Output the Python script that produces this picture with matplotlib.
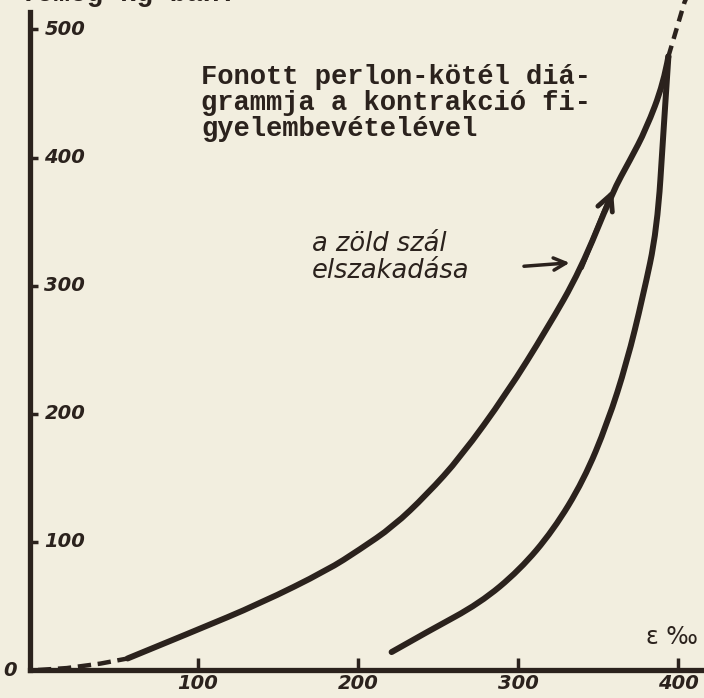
import matplotlib
matplotlib.use("Agg")
import matplotlib.pyplot as plt
from matplotlib.path import Path
from matplotlib.patches import PathPatch

# load (kg) vs elongation (per mille)
lead_x = [0, 18, 39, 56]
lead_y = [0, 1.5, 5, 9]
load_x = [56, 97, 139, 181, 201, 222, 243, 264, 293, 318, 339, 359, 370, 380, 391, 394]
load_y = [9, 30, 52, 78, 94, 112, 137, 166, 216, 266, 312, 373, 398, 422, 458, 479]
unload_x = [394, 391, 387, 378, 368, 356, 341, 322, 301, 276, 245, 221]
unload_y = [479, 422, 344, 291, 240, 193, 148, 109, 78, 52, 31, 14]
ext_x = [394, 404, 407]
ext_y = [479, 521, 530]

xticks = [100, 200, 300, 400]
yticks = [100, 200, 300, 400, 500]

title = "Fonott perlon-kötél diá-\ngrammja a kontrakció fi-\ngyelembevételével"
note = "a zöld szál\nelszakadása"
top_label = "Tömeg kg-ban."

paper = "#f2eedf"
ink = "#2b221d"


def smooth_path(xs, ys):
    # quadratic bezier through midpoints, so the hand drawn curve has no corners
    pts = list(zip(xs, ys))
    verts = [pts[0]]
    codes = [Path.MOVETO]
    for i in range(1, len(pts) - 1):
        mid = ((pts[i][0] + pts[i + 1][0]) / 2, (pts[i][1] + pts[i + 1][1]) / 2)
        if i == len(pts) - 2:
            mid = pts[-1]
        verts += [pts[i], mid]
        codes += [Path.CURVE3, Path.CURVE3]
    return Path(verts, codes)


fig = plt.figure(figsize=(7.04, 6.98), dpi=100, facecolor=paper)
ax = fig.add_axes([30 / 704, 28 / 698, 674 / 704, 670 / 698])
ax.set_facecolor(paper)
ax.set_xlim(-5, 416.25)
ax.set_ylim(0, 523)

hand = dict(family="DejaVu Sans", style="italic", weight="bold", color=ink)

# curves
ax.plot(lead_x, lead_y, color=ink, lw=3.2, ls=(0, (3, 1.5)))
for xs, ys in [(load_x, load_y), (unload_x, unload_y)]:
    ax.add_patch(PathPatch(smooth_path(xs, ys), fill=False, edgecolor=ink, lw=4.3,
                           capstyle="round", joinstyle="round"))
ax.plot(ext_x, ext_y, color=ink, lw=3.2, ls=(0, (2.5, 1.6)), clip_on=False)

# arrow on loading curve
ax.annotate("", xy=(load_x[11] + 1, load_y[11] + 4), xytext=(load_x[10], load_y[10]),
            arrowprops=dict(arrowstyle="->", color=ink, lw=3.5, mutation_scale=28))

# axes
for s in ["top", "right"]:
    ax.spines[s].set_visible(False)
for s in ["left", "bottom"]:
    ax.spines[s].set_linewidth(3.8)
    ax.spines[s].set_color(ink)
ax.spines["left"].set_bounds(0, 514)

ax.set_xticks(xticks)
ax.set_xticklabels([str(v) for v in xticks])
ax.tick_params(axis="x", direction="in", length=9, width=2.5, color=ink, pad=3,
               labelsize=14, labelcolor=ink)
for lab in ax.get_xticklabels():
    lab.set_fontstyle("italic")
    lab.set_fontweight("bold")

ax.set_yticks(yticks)
ax.set_yticklabels([])
ax.tick_params(axis="y", direction="in", length=6, width=2.5, color=ink)
for v in yticks:
    ax.text(4, v, str(v), ha="left", va="center", fontsize=14, **hand)
ax.text(-13, 0, "0", ha="right", va="center", fontsize=14, clip_on=False, **hand)

ax.text(396, 26, "ε ‰", ha="center", va="center", fontsize=17,
        family="DejaVu Sans", color=ink)

# typed caption
ax.text(102, 473, title, ha="left", va="top", fontsize=19.5, family="Liberation Mono",
        weight="bold", color=ink, linespacing=1.0)

# handwritten note
ax.text(171, 322, note, ha="left", va="center", fontsize=18.5, family="DejaVu Sans",
        style="italic", color=ink, linespacing=1.05)
ax.annotate("", xy=(334, 318), xytext=(302, 315),
            arrowprops=dict(arrowstyle="->", color=ink, lw=2.5, mutation_scale=22))

# heading of the y axis, cut off by the top edge of the scan
fig.text(20 / 704, 1 - 1 / 698, top_label, ha="left", va="baseline", fontsize=20,
         family="Liberation Mono", weight="bold", color=ink)

fig.savefig("out.png", dpi=100, facecolor=paper)
